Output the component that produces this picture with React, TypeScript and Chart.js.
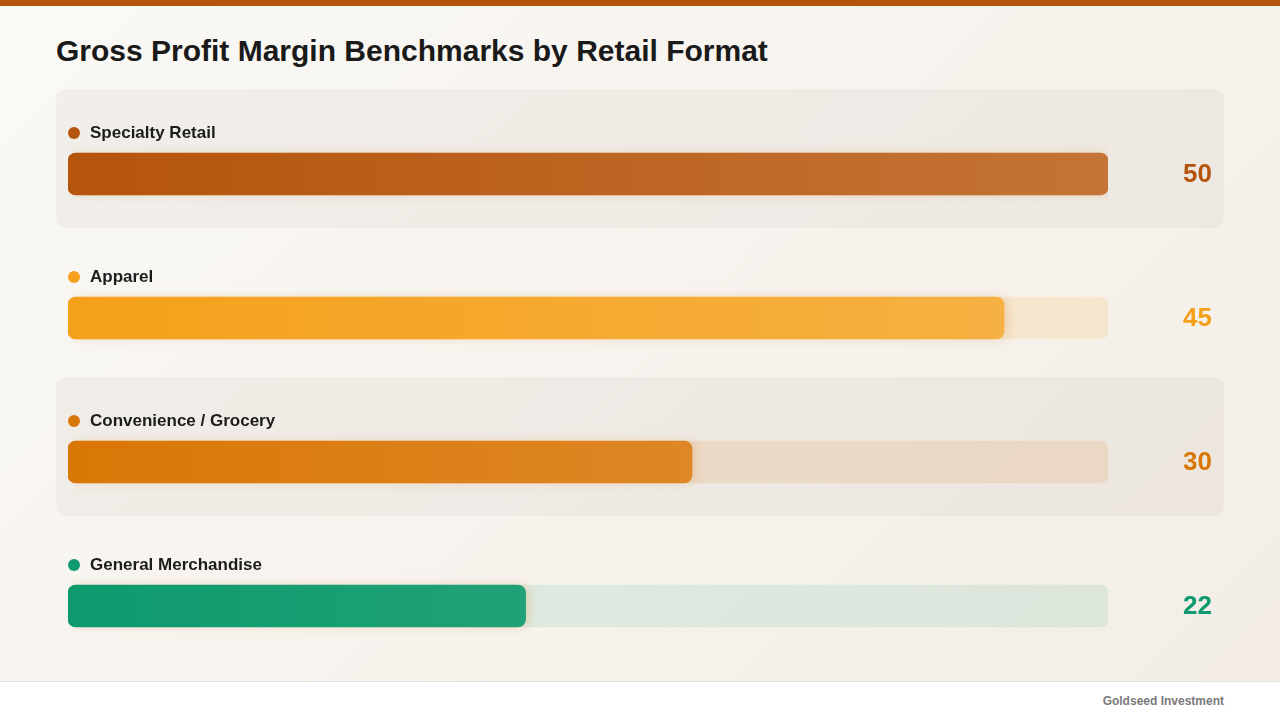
import React, { useEffect, useRef } from 'react';
import { Chart, registerables } from 'chart.js';

Chart.register(...registerables);

const formats = ['Specialty Retail', 'Apparel', 'Convenience / Grocery', 'General Merchandise'];
const margins = [50, 45, 30, 22];
const scaleMax = 50;
const colors = ['#B5540C', '#F5A01A', '#D97706', '#0E9A6E'];
const lightColors = ['#C47436', '#F6B347', '#E1913A', '#3AAA84'];
const trackColors = ['rgba(181,84,12,0.13)', 'rgba(245,160,26,0.13)', 'rgba(217,119,6,0.13)', 'rgba(14,154,110,0.1)'];

const FONT = '"Liberation Sans", Arial, Helvetica, sans-serif';

const rowPlugin = {
  id: 'rows',
  beforeDatasetsDraw(chart: any) {
    const { ctx } = chart;
    const yScale = chart.scales.y;
    ctx.save();
    formats.forEach((_, i) => {
      const cy = yScale.getPixelForValue(i);
      if (i % 2 === 0) {
        ctx.fillStyle = 'rgba(120,100,80,0.06)';
        ctx.beginPath();
        ctx.roundRect(56, cy - 85, 1168, 139, 10);
        ctx.fill();
      }
    });
    ctx.restore();
  },
  beforeDatasetDraw(chart: any, args: any) {
    if (args.index === 0) {
      chart.ctx.save();
      chart.ctx.shadowColor = 'rgba(210,130,50,0.22)';
      chart.ctx.shadowBlur = 10;
      chart.ctx.shadowOffsetX = 4;
    }
  },
  afterDatasetDraw(chart: any, args: any) {
    if (args.index === 0) chart.ctx.restore();
  },
  afterDraw(chart: any) {
    const { ctx } = chart;
    const yScale = chart.scales.y;
    ctx.save();
    formats.forEach((name, i) => {
      const cy = yScale.getPixelForValue(i);
      ctx.fillStyle = colors[i];
      ctx.beginPath();
      ctx.arc(74, cy - 41, 6, 0, Math.PI * 2);
      ctx.fill();
      ctx.fillStyle = '#1c1c1c';
      ctx.font = `bold 17px ${FONT}`;
      ctx.textAlign = 'left';
      ctx.textBaseline = 'middle';
      ctx.fillText(name, 90, cy - 41);
      ctx.fillStyle = colors[i];
      ctx.font = `bold 26px ${FONT}`;
      ctx.textAlign = 'right';
      ctx.fillText(String(margins[i]), 1212, cy + 1);
    });
    ctx.restore();
  },
};

const App: React.FC = () => {
  const chartRef = useRef<HTMLCanvasElement>(null);

  useEffect(() => {
    const ctx = chartRef.current?.getContext('2d');
    if (!ctx) return;

    const chart = new Chart(ctx, {
      type: 'bar',
      data: {
        labels: formats,
        datasets: [
          {
            data: margins,
            grouped: false,
            barThickness: 42,
            borderRadius: 8,
            borderSkipped: false,
            backgroundColor: (c: any) => {
              const el = c.element;
              const chartArea = c.chart.chartArea;
              if (!chartArea) return colors[c.dataIndex];
              const x0 = chartArea.left;
              const x1 = el && el.x ? el.x : chartArea.right;
              const g = c.chart.ctx.createLinearGradient(x0, 0, Math.max(x1, x0 + 1), 0);
              g.addColorStop(0, colors[c.dataIndex]);
              g.addColorStop(1, lightColors[c.dataIndex]);
              return g;
            },
          },
          {
            data: margins.map(() => scaleMax),
            grouped: false,
            barThickness: 42,
            borderRadius: 8,
            borderSkipped: false,
            backgroundColor: trackColors,
          },
        ],
      },
      options: {
        indexAxis: 'y',
        animation: false,
        responsive: false,
        layout: { padding: { left: 68, right: 172, top: 102, bottom: 3 } },
        plugins: {
          legend: { display: false },
          tooltip: { enabled: false },
        },
        scales: {
          x: { min: 0, max: scaleMax, display: false },
          y: { display: false },
        },
      },
      plugins: [rowPlugin],
    });

    return () => {
      chart.destroy();
    };
  }, []);

  return (
    <div
      style={{
        position: 'fixed',
        left: 0,
        top: 0,
        width: 1280,
        height: 720,
        background: 'linear-gradient(135deg, #FAF9F6 0%, #F6F2EC 60%, #F3EDE6 100%)',
        fontFamily: FONT,
        overflow: 'hidden',
      }}
    >
      <div style={{ position: 'absolute', left: 0, top: 0, width: 1280, height: 6, background: '#B5540C' }} />
      <div
        style={{
          position: 'absolute',
          left: 56,
          top: 35,
          fontSize: 30,
          lineHeight: '32px',
          fontWeight: 700,
          color: '#1a1a1a',
        }}
      >
        Gross Profit Margin Benchmarks by Retail Format
      </div>
      <canvas
        ref={chartRef}
        width={1280}
        height={681}
        style={{ position: 'absolute', left: 0, top: 0, width: 1280, height: 681 }}
      />
      <div
        style={{
          position: 'absolute',
          left: 0,
          top: 681,
          width: 1280,
          height: 39,
          background: '#FFFFFF',
          borderTop: '1px solid #E6E2DC',
          boxSizing: 'border-box',
        }}
      >
        <div
          style={{
            position: 'absolute',
            right: 56,
            top: 12,
            fontSize: 12,
            fontWeight: 700,
            color: '#7a7a7a',
          }}
        >
          Goldseed Investment
        </div>
      </div>
    </div>
  );
};

export default App;
